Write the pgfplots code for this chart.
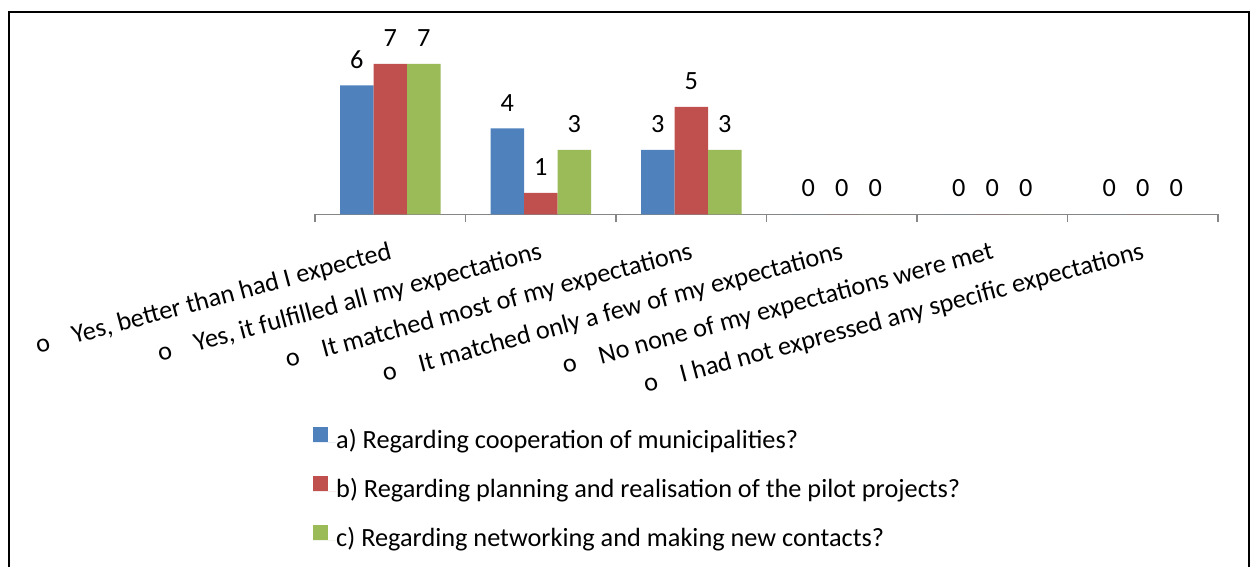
\documentclass[border=0pt]{standalone}
\usepackage{pgfplots}
\pgfplotsset{compat=1.18}
\usepackage{fontspec}
\setmainfont{Carlito}
\definecolor{cA}{HTML}{4F81BD}
\definecolor{cB}{HTML}{C0504D}
\definecolor{cC}{HTML}{9BBB59}
\definecolor{axgray}{HTML}{868686}
\newcommand{\cf}{\fontsize{26.3bp}{31bp}\selectfont}
\begin{document}
\begin{tikzpicture}[x=1bp,y=1bp]
\path[use as bounding box] (0,0) rectangle (1252,567);
\draw[line width=2bp] (9,0) -- (9,555) -- (1249,555) -- (1249,0);
\begin{axis}[
  at={(315bp,352.7bp)}, anchor=south west,
  scale only axis, width=903bp, height=171.8bp,
  xmin=-0.5, xmax=5.5, ymin=0, ymax=8,
  axis x line*=bottom, axis y line=none,
  x axis line style={draw=axgray, line width=1.5bp},
  xtick={0,1,2,3,4,5},
  xticklabels={{o\hspace{0.9em}Yes, better than had I expected},
               {o\hspace{0.9em}Yes, it fulfilled all my expectations},
               {o\hspace{0.9em}It matched most of my expectations},
               {o\hspace{0.9em}It matched only a few of my expectations},
               {o\hspace{0.9em}No none of my expectations were met},
               {o\hspace{0.9em}I had not expressed any specific expectations}},
  major tick length=0pt,
  minor xtick={-0.5,0.5,1.5,2.5,3.5,4.5,5.5},
  minor tick length=8bp, tick align=outside,
  minor tick style={draw=axgray, line width=1.5bp},
  xticklabel style={font=\cf, rotate=15, anchor=north east, inner sep=0pt, yshift=-25bp, xshift=-9bp},
  ybar=0pt, bar width=33.5bp,
  /pgf/number format/assume math mode=true,
  nodes near coords,
  every node near coord/.append style={font=\cf, inner sep=0pt, anchor=south, yshift=17bp, text=black},
  legend style={at={(-0.0022,-1.235)}, anchor=north west, draw=none, fill=none,
    inner sep=0pt, font=\cf, row sep=22bp,
    nodes={inner sep=0pt, text height=17bp, text depth=5bp}},
  legend cell align=left,
  legend image code/.code={\draw[#1,/tikz/.cd,draw=none] (0bp,1bp) rectangle (15bp,16bp); \path (0bp,0bp) -- (23bp,0bp);},
]
\addplot[fill=cA, draw=none] coordinates {(0,6) (1,4) (2,3) (3,0) (4,0) (5,0)};
\addplot[fill=cB, draw=none] coordinates {(0,7) (1,1) (2,5) (3,0) (4,0) (5,0)};
\addplot[fill=cC, draw=none] coordinates {(0,7) (1,3) (2,3) (3,0) (4,0) (5,0)};
\legend{a) Regarding cooperation of municipalities?,
        b) Regarding planning and realisation of the pilot projects?,
        c) Regarding networking and making new contacts?}
\end{axis}
\end{tikzpicture}
\end{document}
